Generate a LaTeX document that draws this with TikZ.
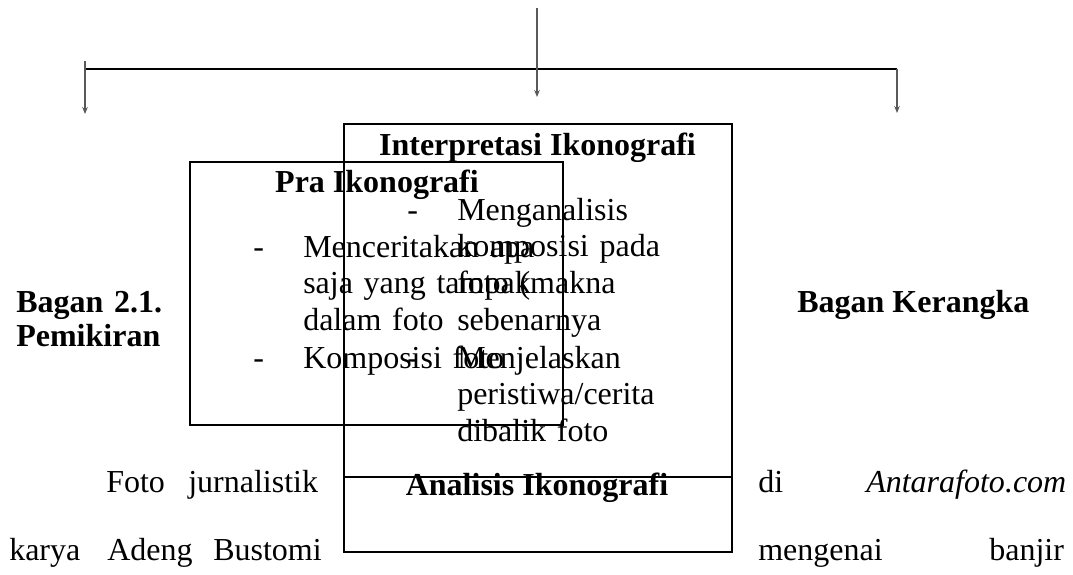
\documentclass[tikz,border=0pt]{standalone}
\usepackage{fontspec}
\setmainfont{Liberation Serif}
\usetikzlibrary{arrows.meta, positioning}

\newcommand{\figfont}{\fontsize{22.76pt}{26.3pt}\selectfont}

\begin{document}
\begin{tikzpicture}[
  x=0.025cm, y=-0.025cm,
  panel/.style={
    draw,
    line width=1.4pt,
    inner sep=0pt,
    outer sep=0pt
  },
  title/.style={
    font=\figfont\bfseries,
    anchor=base,
    inner sep=0pt
  },
  word/.style={
    font=\figfont,
    anchor=base west,
    inner sep=0pt
  },
  item/.style={
    font=\figfont,
    anchor=base west,
    inner sep=0pt,
    text width=7cm,
    align=left
  },
  feed/.style={
    draw=black!65,
    line width=1.3pt,
    -{Stealth[length=5pt,width=4pt]}
  }
]
\useasboundingbox (0,0) rectangle (1073,574);

% Boxes
\node[panel, minimum width=9.7cm, minimum height=8.825cm] (interp) at (538,300.5) {};
\node[panel, minimum width=9.7cm, minimum height=1.875cm, below=0pt of interp] (analisis) {};
\node[panel, minimum width=9.325cm, minimum height=6.575cm] (pra) at (376.5,293.5) {};

% Titles
\node[title] (interpT) at (537.5,155) {Interpretasi Ikonografi};
\node[title] (praT) at (377,192) {Pra Ikonografi};
\node[title] (analisisT) at (537,495) {Analisis Ikonografi};

% Pra Ikonografi list
\node[word] (praD1) at (253,257) {-};
\node[item] (praI1) at (303,257) {Menceritakan apa\\saja yang tampak\\dalam foto};
\node[word] (praD2) at (253,368) {-};
\node[item] (praI2) at (303,368) {Komposisi foto};

% Interpretasi list
\node[word] (intD1) at (407,220) {-};
\node[item] (intI1) at (457,220) {Menganalisis\\komposisi pada\\foto (makna\\sebenarnya};
\node[word] (intD2) at (407,368) {-};
\node[item] (intI2) at (457,368) {Menjelaskan\\peristiwa/cerita\\dibalik foto};

% Side labels
\node[word, font=\fontsize{22.76pt}{24.2pt}\selectfont\bfseries, text width=5cm, align=left]
  (bagan) at (16,312) {Bagan 2.1.\\Pemikiran};
\node[word, font=\figfont\bfseries] (kerangka) at (797,312) {Bagan Kerangka};

% Paragraph below
\node[word] (w1) at (106,492) {Foto};
\node[word] (w2) at (188,492) {jurnalistik};
\node[word] (w3) at (758,492) {di};
\node[word] (w4) at (866,492) {\itshape Antarafoto.com};
\node[word] (w5) at (9,560) {karya};
\node[word] (w6) at (107,560) {Adeng};
\node[word] (w7) at (213,560) {Bustomi};
\node[word] (w8) at (758,560) {mengenai};
\node[word] (w9) at (989,560) {banjir};

% Connectors
\coordinate (src) at (537,8);
\coordinate (mid) at (537,97);
\coordinate (barL) at (85,69);
\coordinate (barR) at (897,69);
\coordinate (leftTop) at (85,61);
\coordinate (leftEnd) at (85,114);
\coordinate (rightEnd) at (897,113);

\draw[line width=2.1pt] (barL) -- (barR);
\draw[feed] (src) -- (mid);
\draw[feed] (leftTop) -- (leftEnd);
\draw[feed] (barR) -- (rightEnd);

\end{tikzpicture}
\end{document}
